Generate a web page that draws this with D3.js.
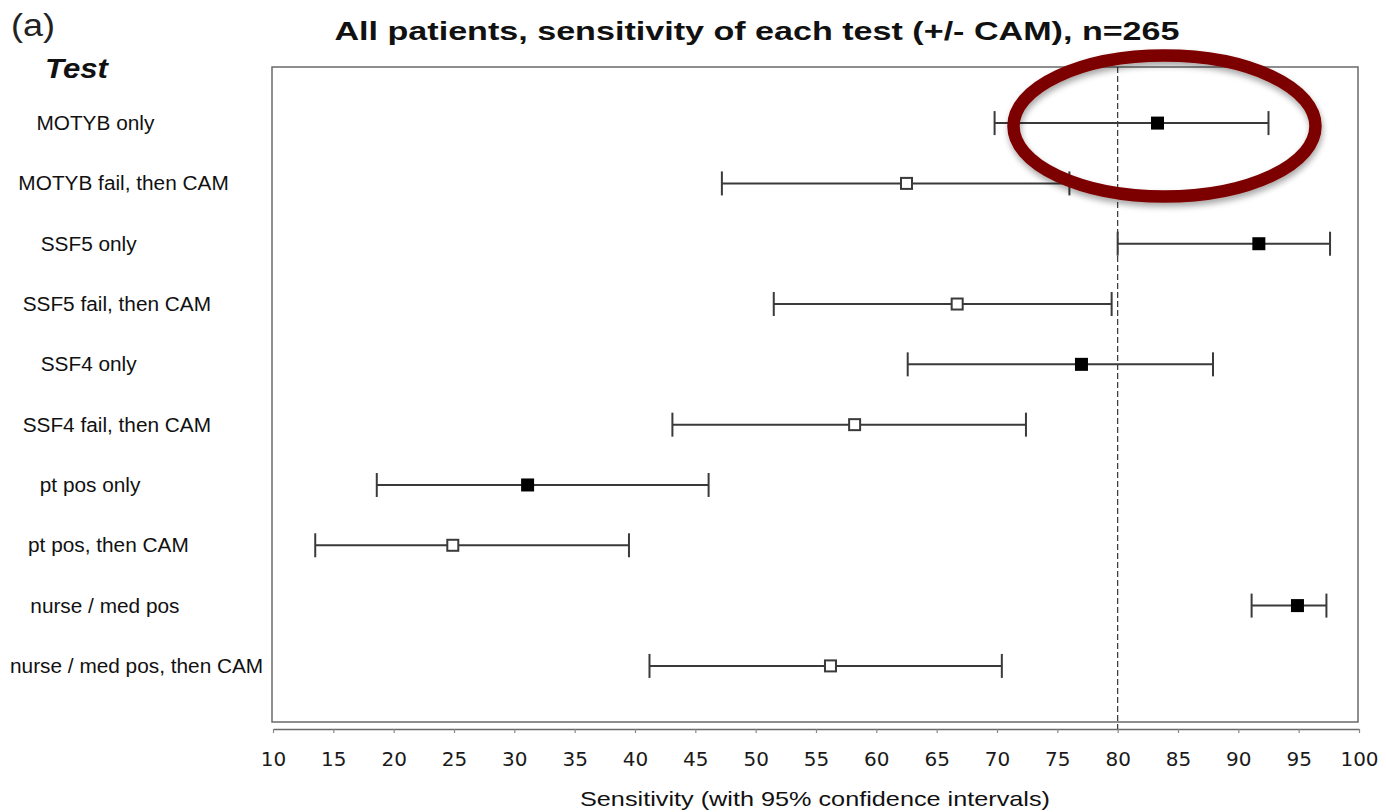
<!DOCTYPE html>
<html>
<head>
<meta charset="utf-8">
<script src="https://cdn.jsdelivr.net/npm/d3@7/dist/d3.min.js"></script>
<style>
  html, body { margin: 0; padding: 0; background: #fff; }
  svg { display: block; }
</style>
</head>
<body>
<div id="chart"></div>
<script>
// Sensitivity of each screening test, with and without a follow-up CAM
const tests = [
  "MOTYB only",
  "MOTYB fail, then CAM",
  "SSF5 only",
  "SSF5 fail, then CAM",
  "SSF4 only",
  "SSF4 fail, then CAM",
  "pt pos only",
  "pt pos, then CAM",
  "nurse / med pos",
  "nurse / med pos, then CAM"
];
const sensitivity = [83.3, 62.5, 91.7, 66.7, 77.0, 58.2, 31.1, 24.9, 94.9, 56.2];
const ciLow       = [69.8, 47.2, 80.0, 51.5, 62.6, 43.1, 18.6, 13.5, 91.1, 41.2];
const ciHigh      = [92.5, 76.0, 97.6, 79.5, 87.9, 72.4, 46.1, 39.5, 97.3, 70.4];
// true = test alone (filled marker), false = followed by CAM (open marker)
const standalone  = [true, false, true, false, true, false, true, false, true, false];
const xTicks = [10, 15, 20, 25, 30, 35, 40, 45, 50, 55, 60, 65, 70, 75, 80, 85, 90, 95, 100];
const xDomain = [10, 100];
const referenceLine = 80;
const highlighted = "MOTYB only";

const W = 1386, H = 812;
const box = { left: 272, top: 67, right: 1358, bottom: 722 };
const axisY = 729;
const SANS = "'Liberation Sans', Arial, Helvetica, sans-serif";

const svg = d3.select("#chart").append("svg")
  .attr("width", W).attr("height", H);

const defs = svg.append("defs");
const shadow = defs.append("filter").attr("id", "ringShadow")
  .attr("x", "-20%").attr("y", "-30%").attr("width", "140%").attr("height", "160%");
shadow.append("feGaussianBlur").attr("in", "SourceAlpha").attr("stdDeviation", 3).attr("result", "b");
shadow.append("feOffset").attr("in", "b").attr("dx", 1).attr("dy", 4).attr("result", "o");
shadow.append("feComponentTransfer").attr("in", "o").attr("result", "s")
  .append("feFuncA").attr("type", "linear").attr("slope", 0.35);
const merge = shadow.append("feMerge");
merge.append("feMergeNode").attr("in", "s");
merge.append("feMergeNode").attr("in", "SourceGraphic");

const x = d3.scaleLinear().domain(xDomain).range([273, 1359]);
const y = d3.scalePoint().domain(tests).range([box.top, box.bottom]).padding(0.93);

const rows = tests.map((t, i) => ({
  test: t, value: sensitivity[i], lo: ciLow[i], hi: ciHigh[i], solo: standalone[i]
}));

// Widen a text element horizontally to a given length (glyphs stretched)
function stretchTo(sel, len) {
  sel.attr("textLength", len).attr("lengthAdjust", "spacingAndGlyphs");
}

// Plot frame
svg.append("rect")
  .attr("x", box.left).attr("y", box.top)
  .attr("width", box.right - box.left).attr("height", box.bottom - box.top)
  .attr("fill", "none").attr("stroke", "#6a6a6a").attr("stroke-width", 1.5);

// X axis, detached just below the frame
const xAxis = svg.append("g")
  .attr("transform", `translate(0,${axisY})`)
  .call(d3.axisBottom(x).tickValues(xTicks).tickSize(4).tickPadding(19).tickSizeOuter(0));
xAxis.select(".domain").attr("stroke", "#6a6a6a").attr("stroke-width", 1.5);
xAxis.selectAll(".tick line").attr("stroke", "#888").attr("stroke-width", 1.2);
xAxis.selectAll(".tick text")
  .attr("font-family", "'DejaVu Sans', Verdana, sans-serif")
  .attr("font-size", 20).attr("fill", "#1a1a1a");

// Reference line at 80%
svg.append("line")
  .attr("x1", x(referenceLine)).attr("x2", x(referenceLine))
  .attr("y1", box.top).attr("y2", axisY)
  .attr("stroke", "#333").attr("stroke-width", 1.2)
  .attr("stroke-dasharray", "6,3");

// Confidence intervals
const ci = svg.append("g").selectAll("g").data(rows).join("g")
  .attr("stroke", "#3a3a3a").attr("stroke-width", 2);
ci.append("line")
  .attr("x1", d => x(d.lo)).attr("x2", d => x(d.hi))
  .attr("y1", d => y(d.test)).attr("y2", d => y(d.test));
ci.append("line")
  .attr("x1", d => x(d.lo)).attr("x2", d => x(d.lo))
  .attr("y1", d => y(d.test) - 12).attr("y2", d => y(d.test) + 12);
ci.append("line")
  .attr("x1", d => x(d.hi)).attr("x2", d => x(d.hi))
  .attr("y1", d => y(d.test) - 12).attr("y2", d => y(d.test) + 12);

// Point estimates
svg.append("g").selectAll("rect").data(rows).join("rect")
  .attr("x", d => x(d.value) - (d.solo ? 6.5 : 5.5))
  .attr("y", d => y(d.test) - (d.solo ? 6.5 : 5.5))
  .attr("width", d => d.solo ? 13 : 11)
  .attr("height", d => d.solo ? 13 : 11)
  .attr("fill", d => d.solo ? "#000" : "#fff")
  .attr("stroke", d => d.solo ? "none" : "#3a3a3a")
  .attr("stroke-width", 2);

// Test labels, slightly widened; longer labels sit further left
svg.append("g").selectAll("text").data(rows).join("text")
  .attr("y", d => y(d.test) + 7)
  .attr("font-family", SANS)
  .attr("font-size", 20).attr("fill", "#111")
  .text(d => d.test)
  .each(function () {
    const w = this.getComputedTextLength() * 1.04;
    d3.select(this)
      .attr("textLength", w).attr("lengthAdjust", "spacingAndGlyphs")
      .attr("x", 59.4 - 0.195 * w);
  });

// Column heading
svg.append("text")
  .attr("x", 45).attr("y", 78)
  .attr("font-family", SANS)
  .attr("font-size", 27).attr("font-weight", "bold").attr("font-style", "italic")
  .attr("fill", "#111").text("Test")
  .call(stretchTo, 63);

// Panel letter
svg.append("text")
  .attr("x", 11).attr("y", 36)
  .attr("font-family", SANS)
  .attr("font-size", 31).attr("fill", "#222").text("(a)")
  .call(stretchTo, 44);

// Title
svg.append("text")
  .attr("x", 757).attr("y", 40).attr("text-anchor", "middle")
  .attr("font-family", SANS)
  .attr("font-size", 26).attr("font-weight", "bold").attr("fill", "#111")
  .text("All patients, sensitivity of each test (+/- CAM), n=265")
  .call(stretchTo, 845);

// X axis title
svg.append("text")
  .attr("x", 815).attr("y", 806).attr("text-anchor", "middle")
  .attr("font-family", SANS)
  .attr("font-size", 21).attr("fill", "#111")
  .text("Sensitivity (with 95% confidence intervals)")
  .call(stretchTo, 470);

// Highlight ring around the MOTYB-only estimate
const hl = rows.find(d => d.test === highlighted);
svg.append("ellipse")
  .attr("cx", x(hl.value) + 7).attr("cy", y(hl.test) + 3)
  .attr("rx", 151).attr("ry", 70.5)
  .attr("fill", "none").attr("stroke", "#7d0000").attr("stroke-width", 12.5)
  .attr("filter", "url(#ringShadow)");
</script>
</body>
</html>
